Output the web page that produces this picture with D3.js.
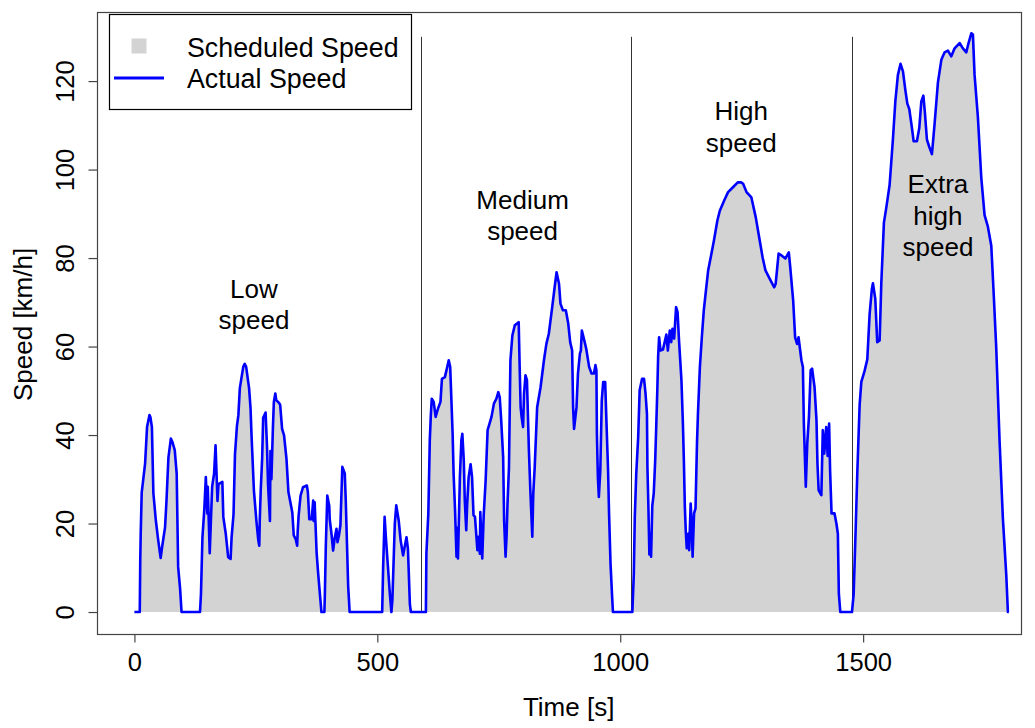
<!DOCTYPE html>
<html>
<head>
<meta charset="utf-8">
<script src="https://cdn.jsdelivr.net/npm/d3@7"></script>
<style>
  html, body { margin: 0; padding: 0; background: #fff; }
  svg { display: block; font-family: "Liberation Sans", Arial, sans-serif; }
</style>
</head>
<body>
<svg id="chart" width="1035" height="728"></svg>
<script>
// ---- Data ----
const timeLow = [0,11,12,13,15,18,22,26,31,33,36,39,44,49,54,57,63,66,70,75,78,83,87,90,94,97,135,137,140,144,147,150,151,155,157,160,164,167,171,173,181,183,188,193,198,200,204,207,211,214,217,224,227,230,236,239,241,246,251,255,257,258,260,263,265,270,273,275,279,280,282,285,287,290,292,298,300,304,308,313,317,321,325,328,332,335,336,338,342,347,355,357,360,365,368,369,371,375,378,382,385,391,392,394,397,401,402,406,409,412,416,418,421,424,428,433,435,440,443,510,512,515,518,526,529,531,536,539,544,548,553,560,563,567,569];
const speedLow = [0,0,11.7,18,27,29.8,33.6,41.8,44.5,44,41.8,26.9,20.8,16.2,12.2,14.7,19.1,25.1,34.9,39.2,38.5,36.6,31.3,10.2,5.3,0,0,4.1,16.8,23.5,30.5,22.3,28.3,13.3,19.3,28.3,31.3,37.7,25.1,28.9,29.4,21.5,17.7,12.4,12,16.8,22.1,35.6,42,44.5,50.6,55.4,56.1,55.4,50.6,46.1,40.1,27.4,20.7,16.2,15,20.7,27.4,34.9,43.9,45.1,37.2,28.9,20.6,36.4,30,41.4,47.4,49.4,47.9,47.2,46.8,41.4,39.9,34.6,27.1,24.8,22.5,17.3,16.5,15,18,21.8,26.3,28.2,28.6,27.1,21,21,25.2,20.6,24.8,13.5,9,3.8,0,0,3.8,15,26.3,24,21,17.3,13.9,16.5,18.8,15.8,17.3,19.6,32.8,31.3,25.3,5.8,0,0,10.2,21.5,16.2,3.8,0,2.7,20,24.1,20.7,16.2,12.8,16.9,14.3,1.8,0];

const timeMedium = [600,601,605,608,610,612,616,620,625,630,633,639,644,647,650,655,657,660,663,664,666,670,673,675,678,680,683,685,688,692,695,698,701,706,708,711,712,714,716,719,723,727,731,735,740,745,749,752,755,759,761,764,766,768,771,773,774,778,783,791,793,795,797,800,802,805,808,812,815,819,821,824,829,836,843,848,853,860,865,869,874,877,882,888,893,897,901,903,905,910,913,917,919,921,926,930,936,941,946,949,951,952,954,956,959,962,965,969,972,975,977,980,983,985];
const speedMedium = [0,13.2,22.3,38.8,44.1,48.2,47.5,44.1,46,47.5,52.7,53.1,55.4,56.9,55.4,40.3,31.3,23,12.5,19,12.1,30.5,38.8,40.3,34.2,25.3,18.5,24.5,30.5,33.4,30.5,21.9,21.5,14,17,13.2,22.6,17.3,12.1,21.9,29.8,41.1,42.6,44.1,47.1,48.2,49.7,48.5,43.3,35,20.7,12.5,17,24.5,32.7,49.3,56.9,62.5,64.8,65.5,55.4,46.3,44.1,41.8,49.3,53.5,52.4,36.6,27.5,17,26.7,32.8,46.3,50.8,56.9,60.6,62.9,68.9,73.4,76.8,74.2,69.7,68.2,68.2,65.2,61,59.1,46.3,41.4,46.3,53.9,58.4,59.1,63.6,61.4,59.5,55.4,53.9,53.9,55.8,54.6,40.3,30.5,26,32,47.8,52,52,41.8,32,22.3,11,4.2,0];

const timeHigh = [1025,1028,1030,1033,1037,1040,1045,1049,1052,1055,1056,1058,1060,1062,1063.5,1066,1069,1072,1074.5,1076.5,1078,1080,1083,1088,1095,1098,1102,1105,1107.5,1111,1115,1118,1121,1126,1129,1131,1133,1135,1137,1140,1142,1145,1147,1149,1152,1155,1158,1160,1164,1168,1172,1175,1181,1189,1193,1200,1205,1214,1222,1232,1242,1249,1253,1260,1270,1279,1286,1293,1299,1306,1314,1317,1320,1326,1332,1340,1347,1350,1356,1360,1364,1367,1373,1376,1378,1382,1385,1388.5,1392,1395,1400,1404,1406,1408.5,1414,1417,1420,1424,1427,1430,1432,1435,1441,1445,1448,1450,1453];
const speedHigh = [0,8.7,21.5,31.3,39.6,50.1,52.7,52.7,49.5,44.8,32.8,23.8,13,17.7,12.5,24,26.8,34.3,43.3,50.8,57.6,62.1,59.1,59.3,62.7,59.1,63.6,61,64,61.8,68.9,67.8,61.4,52.4,42.6,34.3,23.8,18.1,14.4,17.7,14,24.5,20,12.5,22.3,23.4,38.1,44.8,55.4,62.1,68.1,71.2,77.2,81.7,84,88.5,90.7,93,94.9,96,97.1,97.1,96.8,94.9,93.7,89.2,84.7,80.2,77.2,75.7,74,73.4,74.2,81,80.6,79.9,81.3,77.9,70.4,62.1,60.6,62.1,56.9,55.4,42.6,28.3,38.1,44.1,54.6,55,50.8,43.3,33.5,27.5,26.4,41.1,35.8,41.8,35.3,42.6,32,22.3,22.3,20,17.7,4.2,0];

const timeExtra = [1477,1480.5,1484.6,1488,1492.8,1496.3,1503,1508.6,1513.4,1518,1520.2,1525,1529,1534,1537.4,1542.8,1547.7,1554.5,1561.3,1566.3,1571.6,1577,1582,1587,1591,1595,1600,1604,1610.7,1615.6,1619.8,1624,1627.2,1631.3,1636.2,1641.6,1647,1654,1661,1667.7,1674.5,1681.5,1688.3,1698.6,1705.4,1712.4,1717,1722.7,1726,1729.4,1736.2,1743.2,1750,1756.8,1763.8,1768.5,1774,1781,1787.7,1794.7,1798,1800];
const speedExtra = [0,4,18.6,31.4,46.8,52,54.5,57.1,67.4,73,74.3,70.8,61,61.4,74.3,88,91.4,96.5,106.8,115.4,121.4,123.9,122.2,117.9,114.9,113.7,109.8,106.4,106.4,109.4,115.4,116.7,112.8,106.8,105.1,103.5,110.2,119.7,124.8,126.5,126.9,125.6,127.4,128.6,127.4,126.5,128.6,130.8,130.5,121.4,111.9,98.2,89.7,87.1,82.8,72.5,59.7,38.3,21.1,8.3,0,0];

// Scheduled and actual speed coincide at this resolution
const time = [...timeLow, ...timeMedium, ...timeHigh, ...timeExtra];
const scheduledSpeed = [...speedLow, ...speedMedium, ...speedHigh, ...speedExtra];
const actualSpeed = scheduledSpeed.slice();

const phaseBoundaries = [589, 1022, 1477];
const phaseLabels = [["Low", "speed"], ["Medium", "speed"], ["High", "speed"], ["Extra", "high", "speed"]];
const phaseLabelTime = [246, 799, 1249, 1654];
const phaseLabelSpeed = [71, 91.2, 111.2, 94.7];
const xTicks = [0, 500, 1000, 1500];
const yTicks = [0, 20, 40, 60, 80, 100, 120];
const legendLabels = ["Scheduled Speed", "Actual Speed"];

// ---- Layout ----
const svg = d3.select("#chart");
const plot = { left: 97.5, right: 1021.5, top: 12.5, bottom: 634.5 };
const x = d3.scaleLinear().domain([-76, 1826]).range([plot.left, plot.right]);
const y = d3.scaleLinear().domain([-5.08, 135.5]).range([plot.bottom, plot.top]);

const pts = time.map((t, i) => ({ t, s: scheduledSpeed[i], a: actualSpeed[i] }));

// Scheduled speed area
svg.append("path")
  .datum(pts)
  .attr("fill", "#D3D3D3")
  .attr("d", d3.area().x(d => x(d.t)).y0(y(0)).y1(d => y(d.s)));

// Phase separators
svg.selectAll("line.phase")
  .data(phaseBoundaries)
  .join("line")
  .attr("class", "phase")
  .attr("x1", d => Math.round(x(d)) + 0.5).attr("x2", d => Math.round(x(d)) + 0.5)
  .attr("y1", y(0)).attr("y2", y(130))
  .attr("stroke", "#333").attr("stroke-width", 1);

// Actual speed line
svg.append("path")
  .datum(pts)
  .attr("fill", "none")
  .attr("stroke", "#0000FF")
  .attr("stroke-width", 2.6)
  .attr("stroke-linejoin", "round")
  .attr("d", d3.line().x(d => x(d.t)).y(d => y(d.a)));

// Phase labels
phaseLabels.forEach((lines, i) => {
  const t = svg.append("text")
    .attr("text-anchor", "middle")
    .attr("font-size", 26)
    .attr("fill", "#000")
    .attr("x", x(phaseLabelTime[i]))
    .attr("y", y(phaseLabelSpeed[i]));
  lines.forEach((ln, j) => {
    t.append("tspan").attr("x", x(phaseLabelTime[i])).attr("dy", j === 0 ? 0 : 31.5).text(ln);
  });
});

// Plot box
svg.append("rect")
  .attr("x", plot.left).attr("y", plot.top)
  .attr("width", plot.right - plot.left).attr("height", plot.bottom - plot.top)
  .attr("fill", "none").attr("stroke", "#444").attr("stroke-width", 1.2);

// X axis
const xAxis = svg.append("g")
  .attr("transform", `translate(0,${plot.bottom})`)
  .call(d3.axisBottom(x).tickValues(xTicks).tickSize(8).tickPadding(10).tickFormat(d3.format("d")));
xAxis.select(".domain").remove();
xAxis.selectAll(".tick line").attr("stroke", "#444").attr("stroke-width", 1.2);
xAxis.selectAll("text").attr("font-size", 25.5).attr("font-family", "Liberation Sans, Arial, sans-serif").attr("fill", "#000");

// Y axis
const yAxis = svg.append("g")
  .attr("transform", `translate(${plot.left},0)`)
  .call(d3.axisLeft(y).tickValues(yTicks).tickSize(9).tickFormat(d3.format("d")));
yAxis.select(".domain").remove();
yAxis.selectAll(".tick line").attr("stroke", "#444").attr("stroke-width", 1.2);
yAxis.selectAll("text")
  .attr("font-size", 25.5).attr("font-family", "Liberation Sans, Arial, sans-serif").attr("fill", "#000")
  .attr("transform", "rotate(-90)")
  .attr("text-anchor", "middle")
  .attr("x", 0).attr("y", -23.5).attr("dy", 0);

// Axis titles
svg.append("text")
  .attr("x", (x(0) + x(1800)) / 2 - 3).attr("y", 716)
  .attr("text-anchor", "middle").attr("font-size", 26).text("Time [s]");
svg.append("text")
  .attr("transform", `translate(32,${(y(0) + y(130)) / 2}) rotate(-90)`)
  .attr("text-anchor", "middle").attr("font-size", 26).text("Speed [km/h]");

// Legend
const lg = svg.append("g");
lg.append("rect").attr("x", 109.5).attr("y", 14.5).attr("width", 302).attr("height", 95)
  .attr("fill", "#fff").attr("stroke", "#000").attr("stroke-width", 1.2);
lg.append("rect").attr("x", 131.5).attr("y", 38.5).attr("width", 15).attr("height", 15).attr("fill", "#D3D3D3");
lg.append("line").attr("x1", 114).attr("x2", 164).attr("y1", 78).attr("y2", 78)
  .attr("stroke", "#0000FF").attr("stroke-width", 2.8);
lg.selectAll("text.leg").data(legendLabels).join("text")
  .attr("class", "leg")
  .attr("x", 187).attr("y", (d, i) => 56.5 + i * 31.8)
  .attr("font-size", 26.8).attr("fill", "#000").text(d => d);
</script>
</body>
</html>
